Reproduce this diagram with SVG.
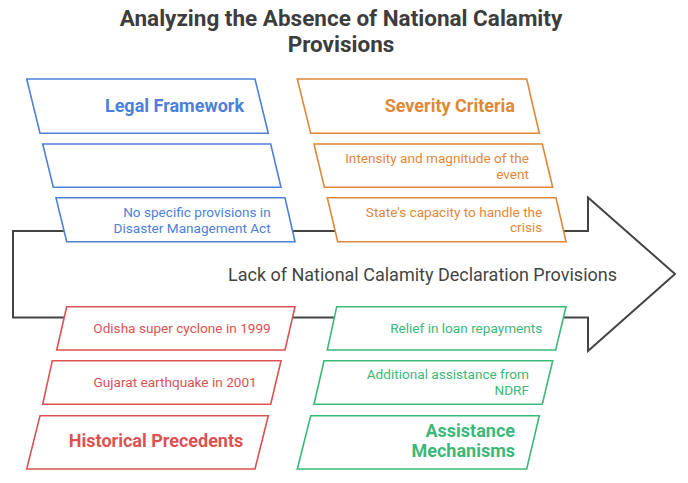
<svg xmlns="http://www.w3.org/2000/svg" width="688" height="483" viewBox="0 0 688 483">
<style>
text{font-family:Roboto,"Liberation Sans",sans-serif}
.title{font-size:22.5px;font-weight:bold;fill:#3d3d3d;text-anchor:middle}
.center{font-size:18px;fill:#444;text-anchor:middle}
.h{font-size:18px;font-weight:bold;text-anchor:end}
.s{font-size:13.6px;text-anchor:end}
.box{fill:#fff;stroke-width:1.6}
.blue .box{stroke:#4f80d9}.blue text{fill:#4f80d9}
.orange .box{stroke:#e08838}.orange text{fill:#e08838}
.red .box{stroke:#dc5252}.red text{fill:#dc5252}
.green .box{stroke:#3cb878}.green text{fill:#3cb878}
</style>
<text class="title" x="341" y="26">Analyzing the Absence of National Calamity</text>
<text class="title" x="341" y="52">Provisions</text>
<g id="connectors">
<path id="main-arrow" d="M13,231 H588 V197.5 L675,274 L588,351 V317.5 H13 Z" fill="#fff" stroke="#444" stroke-width="2" stroke-linejoin="miter"/>
</g>
<text class="center" x="422.5" y="281">Lack of National Calamity Declaration Provisions</text>
<g id="legal-framework" class="blue">
<polygon class="box" points="26.7,79 255,79 268.3,133.3 40,133.3"/>
<text class="h" x="244" y="111.7">Legal Framework</text>
</g>
<g id="legal-empty" class="blue">
<polygon class="box" points="42.7,144 270.7,144 281,187.3 53.3,187.3"/>
</g>
<g id="legal-item" class="blue">
<polygon class="box" points="56,197.7 285,197.7 295,241.7 66.7,241.7"/>
<text class="s" x="270.7" y="217.3">No specific provisions in</text>
<text class="s" x="270.7" y="232.7">Disaster Management Act</text>
</g>
<g id="severity-criteria" class="orange">
<polygon class="box" points="297.3,79 526.7,79 539.3,133.3 310.7,133.3"/>
<text class="h" x="515" y="111.7">Severity Criteria</text>
</g>
<g id="severity-intensity" class="orange">
<polygon class="box" points="314,144 542.3,144 552.7,187.3 324.3,187.3"/>
<text class="s" x="529" y="162.7">Intensity and magnitude of the</text>
<text class="s" x="529" y="179">event</text>
</g>
<g id="severity-capacity" class="orange">
<polygon class="box" points="327.3,197.7 556,197.7 566,241.7 337.7,241.7"/>
<text class="s" x="542.3" y="216.7">State's capacity to handle the</text>
<text class="s" x="542.3" y="232.3">crisis</text>
</g>
<g id="precedent-odisha" class="red">
<polygon class="box" points="66.7,306.7 295,306.7 285,350 56.7,350"/>
<text class="s" x="270.7" y="333.3">Odisha super cyclone in 1999</text>
</g>
<g id="precedent-gujarat" class="red">
<polygon class="box" points="52.3,360.7 281,360.7 270.7,404.3 42.7,404.3"/>
<text class="s" x="256.7" y="387.3">Gujarat earthquake in 2001</text>
</g>
<g id="historical-precedents" class="red">
<polygon class="box" points="40,415.7 268.3,415.7 255,469 26.7,469"/>
<text class="h" x="243.3" y="446.7">Historical Precedents</text>
</g>
<g id="assist-relief" class="green">
<polygon class="box" points="336.7,306.7 566,306.7 555.7,350 327.3,350"/>
<text class="s" x="542.3" y="333.3">Relief in loan repayments</text>
</g>
<g id="assist-ndrf" class="green">
<polygon class="box" points="324,360.7 552.7,360.7 542.3,404.3 314,404.3"/>
<text class="s" x="529" y="379.3">Additional assistance from</text>
<text class="s" x="529" y="395">NDRF</text>
</g>
<g id="assistance-mechanisms" class="green">
<polygon class="box" points="310.7,415.7 539.3,415.7 526.7,469 297.3,469"/>
<text class="h" x="515" y="437.3">Assistance</text>
<text class="h" x="515" y="457.3">Mechanisms</text>
</g>
</svg>
